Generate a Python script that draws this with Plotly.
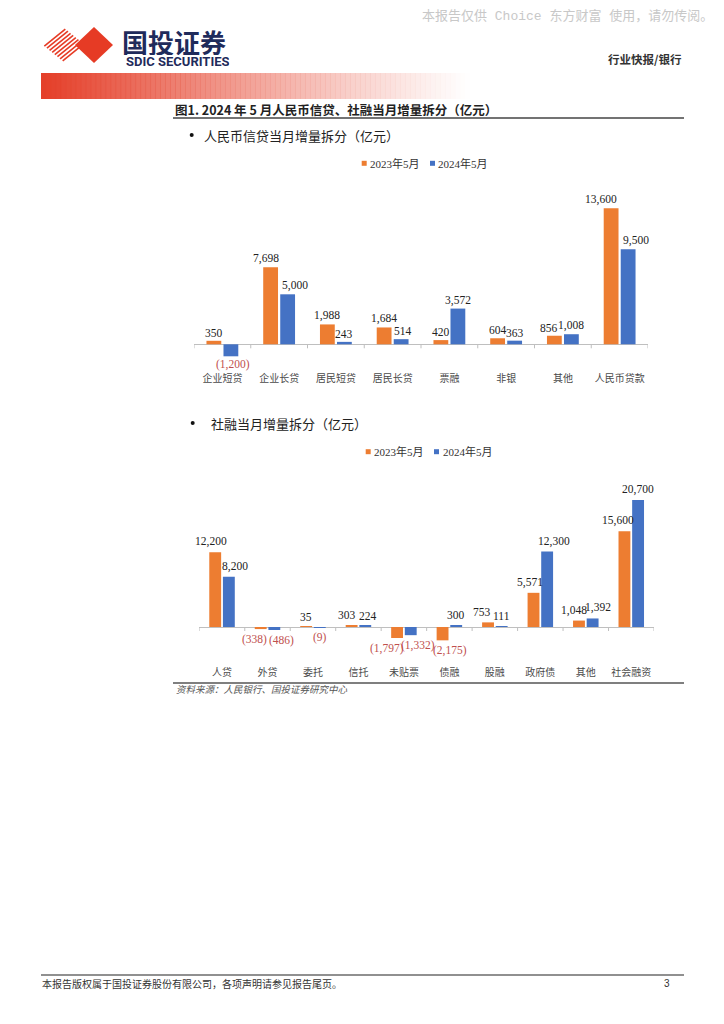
import plotly.graph_objects as go

W, H = 724, 1024

# ---------------- data ----------------
cats1 = ["企业短贷", "企业长贷", "居民短贷", "居民长贷", "票融", "非银", "其他", "人民币贷款"]
may23_1 = [350, 7698, 1988, 1684, 420, 604, 856, 13600]
may24_1 = [-1200, 5000, 243, 514, 3572, 363, 1008, 9500]

cats2 = ["人贷", "外贷", "委托", "信托", "未贴票", "债融", "股融", "政府债", "其他", "社会融资"]
may23_2 = [12200, -338, 35, 303, -1797, -2175, 753, 5571, 1048, 15600]
may24_2 = [8200, -486, -9, 224, -1332, 300, 111, 12300, 1392, 20700]

series_names = ["2023年5月", "2024年5月"]

# ---------------- styles ----------------
ORANGE = "#ED7D31"
BLUE = "#4472C4"
NEG = "#C0504D"
POS = "#222222"
SERIF = "Liberation Serif, Noto Sans CJK SC"
CJK = "Noto Sans CJK SC"
BAR_OFF = 0.15  # bar centre offset from category centre (category units)

# horizontal nudges of the data labels (pixels), as placed in the original
nudge23_1 = [0, -5, 0, 0, 0, 0, -5, -10]
nudge24_1 = [2, 7, 0, 2, 0, 0, 0, 8]
nudge23_2 = [-4, -6, 0, -5, -10, 7, -6, -4, -5, -6]
nudge24_2 = [6, 7, 0, 3, 7, 0, 0, 7, 5, 0]


def px(x):
    return x / W


def py(y):
    return 1 - y / H


def fmt(v):
    s = f"{abs(v):,}"
    return f"({s})" if v < 0 else s


fig = go.Figure()
annotations = []
shapes = []


def add_bars(cats, vals, color, name, xa, ya, side, nudges, gap):
    fig.add_trace(go.Bar(
        x=cats, y=vals, name=name, marker_color=color, marker_line_width=0,
        showlegend=False, xaxis=xa, yaxis=ya, hoverinfo="skip"))
    for i, v in enumerate(vals):
        annotations.append(dict(
            xref=xa, yref=ya, x=i + side * BAR_OFF, y=v,
            xanchor="center", yanchor="bottom" if v >= 0 else "top",
            yshift=gap if v >= 0 else -gap, xshift=nudges[i],
            showarrow=False, text=fmt(v), borderpad=0,
            font=dict(family=SERIF, size=11.5, color=NEG if v < 0 else POS)))


add_bars(cats1, may23_1, ORANGE, series_names[0], "x", "y", -1, nudge23_1, 1)
add_bars(cats1, may24_1, BLUE, series_names[1], "x", "y", 1, nudge24_1, 1)
add_bars(cats2, may23_2, ORANGE, series_names[0], "x2", "y2", -1, nudge23_2, 3)
add_bars(cats2, may24_2, BLUE, series_names[1], "x2", "y2", 1, nudge24_2, 3)

axis_common = dict(showgrid=False, showline=False, ticks="", type="category",
                   tickfont=dict(family=CJK, size=10, color="#4a4a4a"))
yaxis_common = dict(showgrid=False, showticklabels=False, zeroline=True,
                    zerolinecolor="#BFBFBF", zerolinewidth=1, showline=False)

fig.update_layout(
    width=W, height=H, autosize=False,
    margin=dict(l=0, r=0, t=0, b=0),
    paper_bgcolor="white", plot_bgcolor="rgba(0,0,0,0)",
    barmode="group", bargap=0.40, bargroupgap=0.13,
    xaxis=dict(domain=[px(194), px(648)], anchor="y", range=[-0.5, len(cats1) - 0.5], **axis_common),
    yaxis=dict(domain=[py(371), py(180)], anchor="x", range=[-2670, 16430], **yaxis_common),
    xaxis2=dict(domain=[px(199.3), px(654)], anchor="y2", range=[-0.5, len(cats2) - 0.5], **axis_common),
    yaxis2=dict(domain=[py(665), py(470)], anchor="x2", range=[-6194, 25591], **yaxis_common),
)

# divider ticks on zero lines
for n, xr, yr in [(len(cats1), "x", "y"), (len(cats2), "x2", "y2")]:
    for i in range(n + 1):
        shapes.append(dict(type="line", xref=xr, yref=yr, x0=i - 0.5, x1=i - 0.5,
                           ysizemode="pixel", yanchor=0, y0=0, y1=-4,
                           line=dict(color="#BFBFBF", width=1)))

# legends (manual)
for (x_or, x_bl, ycen) in [(361.7, 430.0, 163.3), (365.7, 434.0, 451.7)]:
    for xs, col, name in [(x_or, ORANGE, series_names[0]), (x_bl, BLUE, series_names[1])]:
        shapes.append(dict(type="rect", xref="paper", yref="paper",
                           x0=px(xs), x1=px(xs + 5), y0=py(ycen + 2.5), y1=py(ycen - 2.5),
                           fillcolor=col, line=dict(width=0)))
        annotations.append(dict(xref="paper", yref="paper", x=px(xs + 6.5), y=py(ycen),
                                xanchor="left", yanchor="middle", showarrow=False,
                                text=name, font=dict(family=SERIF, size=11, color="#333333")))

# gradient band
x_start, x_end = 41, 470
steps = 86
for i in range(steps):
    t0 = i / steps
    xa = x_start + (x_end - x_start) * t0
    xb = x_start + (x_end - x_start) * (i + 1) / steps
    alpha = max(0.0, (1 - (t0 + 0.5 / steps)) ** 1.1)
    shapes.append(dict(type="rect", xref="paper", yref="paper",
                       x0=px(xa), x1=px(xb + 0.3), y0=py(99), y1=py(73),
                       fillcolor=f"rgba(228,62,40,{alpha:.3f})", line=dict(width=0), layer="below"))

# logo: striped diamond + solid diamond
L, T, R, B = (43, 45), (64, 28), (85, 45), (64, 62)
nstr = 8
for k in range(nstr):
    t = (k + 0.5) / nstr
    p0 = (L[0] + t * (B[0] - L[0]), L[1] + t * (B[1] - L[1]))
    p1 = (T[0] + t * (B[0] - L[0]), T[1] + t * (B[1] - L[1]))
    shapes.append(dict(type="line", xref="paper", yref="paper",
                       x0=px(p0[0]), y0=py(p0[1]), x1=px(p1[0]), y1=py(p1[1]),
                       line=dict(color="#E63B25", width=1.6)))
cx, cy, hw, hh = 94, 45, 19, 18
path = (f"M {px(cx - hw)},{py(cy)} L {px(cx)},{py(cy - hh)} "
        f"L {px(cx + hw)},{py(cy)} L {px(cx)},{py(cy + hh)} Z")
shapes.append(dict(type="path", xref="paper", yref="paper", path=path,
                   fillcolor="#E63B25", line=dict(width=0)))

# rules
for (xa, xb, yy, w, c) in [(173, 684, 118, 1.5, "#444444"),
                           (173, 684, 683, 1.5, "#555555"),
                           (41, 684, 975, 1.2, "#222222")]:
    shapes.append(dict(type="line", xref="paper", yref="paper",
                       x0=px(xa), x1=px(xb), y0=py(yy), y1=py(yy),
                       line=dict(color=c, width=w)))

# bullets
for (bx, by) in [(191.7, 135), (192.7, 423)]:
    shapes.append(dict(type="circle", xref="paper", yref="paper",
                       x0=px(bx - 2), x1=px(bx + 2), y0=py(by + 2), y1=py(by - 2),
                       fillcolor="#111111", line=dict(width=0)))


def txt(x, y, s, size, color="#222", family=CJK, anchor="left", bold=False, italic=False, h=None):
    if bold:
        s = f"<b>{s}</b>"
    if italic:
        s = f"<i>{s}</i>"
    a = dict(xref="paper", yref="paper", x=px(x), y=py(y),
             xanchor=anchor, yanchor="middle", showarrow=False, borderpad=0,
             text=s, font=dict(family=family, size=size, color=color))
    if h is not None:
        a["height"] = h
    annotations.append(a)


txt(714, 16, "本报告仅供 Choice 东方财富 使用，请勿传阅。", 13, color="#C8C8C8",
    family="Liberation Mono, Noto Sans CJK SC", anchor="right")
txt(121, 41.5, "国投证券", 26, color="#1F2B5B", bold=True, h=27)
txt(125, 61, "SDIC SECURITIES", 13, color="#1F2B5B", family="Roboto", bold=True, h=11)
txt(683, 59, "行业快报/银行", 11.5, color="#333333", anchor="right", bold=True)
txt(174, 109, "图1. 2024 年 5 月人民币信贷、社融当月增量拆分（亿元）", 12.5, color="#222222", bold=True)
txt(203, 135, "人民币信贷当月增量拆分（亿元）", 13, color="#222222")
txt(210, 423, "社融当月增量拆分（亿元）", 13, color="#222222")
txt(175, 689, "资料来源：人民银行、国投证券研究中心", 9.5, color="#555555", italic=True)
txt(41, 983, "本报告版权属于国投证券股份有限公司，各项声明请参见报告尾页。", 10, color="#333333")
txt(671, 983, "3", 10, color="#333333", family="Liberation Sans", anchor="right")

fig.update_layout(shapes=shapes, annotations=annotations)

fig.write_html("out.html", config={"displayModeBar": False},
               post_script="document.body.style.margin='0';")
